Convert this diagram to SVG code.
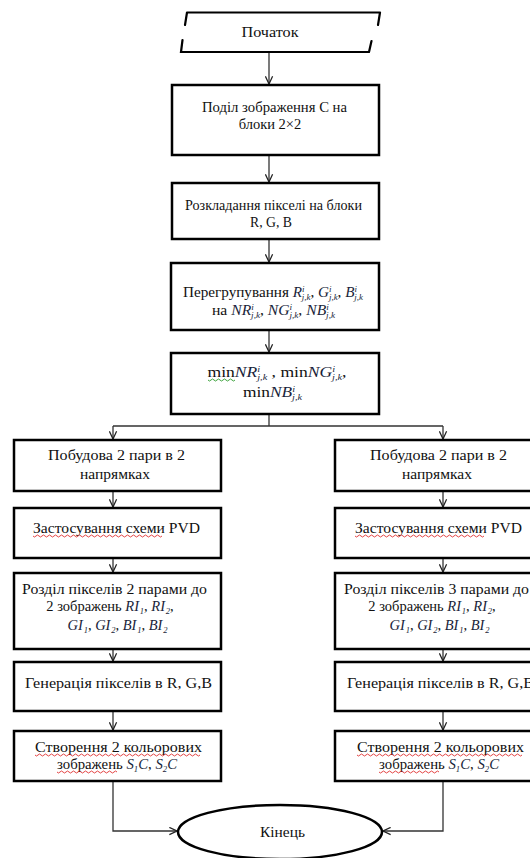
<svg xmlns="http://www.w3.org/2000/svg" width="530" height="858" viewBox="0 0 530 858">
<defs>
<style>
.box{fill:#fff;stroke:#000;stroke-width:2.5}
.term{fill:none;stroke:#000;stroke-width:2.2;stroke-linecap:round}
.t{font-family:"Liberation Serif","Times New Roman",serif;font-size:14.5px;fill:#111;text-anchor:middle}
.m{font-style:italic;fill:#1a1f3a}
.s{font-size:8.5px;font-style:italic;fill:#1a1f3a}
.c{fill:none;stroke:#333;stroke-width:1.3}
.spr{fill:none;stroke:#e03030;stroke-width:0.9}
.spg{fill:none;stroke:#2a9a2a;stroke-width:0.9}
</style>
<marker id="ah" viewBox="0 0 10 10" refX="9.5" refY="5" markerWidth="9" markerHeight="9" markerUnits="userSpaceOnUse" orient="auto">
<path d="M1,1 L9.5,5 L1,9" fill="none" stroke="#222" stroke-width="1.4"/>
</marker>
</defs>

<g id="connectors">
<path class="c" d="M269,52 V84" marker-end="url(#ah)"/>
<path class="c" d="M269,155 V182" marker-end="url(#ah)"/>
<path class="c" d="M269,239 V262" marker-end="url(#ah)"/>
<path class="c" d="M269,330 V352" marker-end="url(#ah)"/>
<path class="c" d="M269,414 V426 M113,426 H443"/>
<path class="c" d="M113,426 V439" marker-end="url(#ah)"/>
<path class="c" d="M443,426 V439" marker-end="url(#ah)"/>
<path class="c" d="M113,491 V507" marker-end="url(#ah)"/>
<path class="c" d="M443,491 V507" marker-end="url(#ah)"/>
<path class="c" d="M113,558 V572" marker-end="url(#ah)"/>
<path class="c" d="M443,558 V572" marker-end="url(#ah)"/>
<path class="c" d="M113,649 V661" marker-end="url(#ah)"/>
<path class="c" d="M443,649 V661" marker-end="url(#ah)"/>
<path class="c" d="M113,711 V730" marker-end="url(#ah)"/>
<path class="c" d="M443,711 V730" marker-end="url(#ah)"/>
<path class="c" d="M113,781 V831 H177" marker-end="url(#ah)"/>
<path class="c" d="M443,781 V831 H383" marker-end="url(#ah)"/>
</g>

<g id="start">
<path class="term" d="M187,12.5 L380,12.5 M187,12.5 L185,25 M182.5,40 L181,52 L369,52 M380,12.5 L378,25 M371.5,41 L369,52"/>
<text class="t" x="270" y="37" textLength="57" lengthAdjust="spacingAndGlyphs">Початок</text>
</g>

<g id="split">
<rect class="box" x="172" y="85" width="207" height="70"/>
<text class="t" x="274.5" y="112" textLength="145" lengthAdjust="spacingAndGlyphs">Поділ зображення C на</text>
<text class="t" x="270" y="129">блоки 2×2</text>
</g>

<g id="decompose">
<rect class="box" x="172" y="183" width="207" height="56"/>
<text class="t" x="273.5" y="210" textLength="177" lengthAdjust="spacingAndGlyphs">Розкладання пікселі на блоки</text>
<text class="t" x="271" y="227" textLength="42" lengthAdjust="spacingAndGlyphs">R, G, B</text>
</g>

<g id="regroup">
<rect class="box" x="171" y="263" width="208" height="67"/>
<text class="t" x="273" y="297" textLength="180" lengthAdjust="spacingAndGlyphs">Перегрупування <tspan class="m">R</tspan><tspan class="s" dy="-5">i</tspan><tspan class="s" dx="-2.5" dy="8">j,k</tspan><tspan dy="-3">, </tspan><tspan class="m">G</tspan><tspan class="s" dy="-5">i</tspan><tspan class="s" dx="-2.5" dy="8">j,k</tspan><tspan dy="-3">, </tspan><tspan class="m">B</tspan><tspan class="s" dy="-5">i</tspan><tspan class="s" dx="-2.5" dy="8">j,k</tspan></text>
<text class="t" x="273.5" y="315" textLength="123" lengthAdjust="spacingAndGlyphs">на <tspan class="m">NR</tspan><tspan class="s" dy="-5">i</tspan><tspan class="s" dx="-2.5" dy="8">j,k</tspan><tspan dy="-3">, </tspan><tspan class="m">NG</tspan><tspan class="s" dy="-5">i</tspan><tspan class="s" dx="-2.5" dy="8">j,k</tspan><tspan dy="-3">, </tspan><tspan class="m">NB</tspan><tspan class="s" dy="-5">i</tspan><tspan class="s" dx="-2.5" dy="8">j,k</tspan></text>
</g>

<g id="minimum">
<rect class="box" x="171" y="353" width="208" height="61"/>
<text class="t" x="277" y="377" textLength="139" lengthAdjust="spacingAndGlyphs">min<tspan class="m">NR</tspan><tspan class="s" dy="-5">i</tspan><tspan class="s" dx="-2.5" dy="8">j,k</tspan><tspan dy="-3"> , min</tspan><tspan class="m">NG</tspan><tspan class="s" dy="-5">i</tspan><tspan class="s" dx="-2.5" dy="8">j,k</tspan><tspan dy="-3">,</tspan></text>
<text class="t" x="272.5" y="397" textLength="59" lengthAdjust="spacingAndGlyphs">min<tspan class="m">NB</tspan><tspan class="s" dy="-5">i</tspan><tspan class="s" dx="-2.5" dy="8">j,k</tspan></text>
<path class="spg" d="M208,380 q1.5,2 3,0 t3,0 t3,0 t3,0 t3,0 t3,0 t3,0 t3,0 t3,0"/>
</g>

<g id="pairs-left">
<rect class="box" x="14" y="440" width="207" height="51"/>
<text class="t" x="116.5" y="460" textLength="137" lengthAdjust="spacingAndGlyphs">Побудова 2 пари в 2</text>
<text class="t" x="115" y="479" textLength="70" lengthAdjust="spacingAndGlyphs">напрямках</text>
</g>
<g id="pairs-right">
<rect class="box" x="335" y="440" width="207" height="51"/>
<text class="t" x="438.5" y="460" textLength="137" lengthAdjust="spacingAndGlyphs">Побудова 2 пари в 2</text>
<text class="t" x="437" y="479" textLength="70" lengthAdjust="spacingAndGlyphs">напрямках</text>
</g>

<g id="pvd-left">
<rect class="box" x="14" y="508" width="207" height="50"/>
<text class="t" x="116.5" y="533" textLength="167" lengthAdjust="spacingAndGlyphs">Застосування схеми PVD</text>
<path class="spr" d="M33,536 q1.5,2 3,0 t3,0 t3,0 t3,0 t3,0 t3,0 t3,0 t3,0 t3,0 t3,0 t3,0 t3,0 t3,0 t3,0 t3,0 t3,0 t3,0 t3,0 t3,0 t3,0 t3,0 t3,0 t3,0 t3,0 t3,0 t3,0 t3,0 t3,0 t3,0 t3,0 t3,0 t3,0 t3,0 t3,0 t3,0 t3,0 t3,0 t3,0 t3,0 t3,0 t3,0 t3,0 t3,0"/>
</g>
<g id="pvd-right">
<rect class="box" x="335" y="508" width="207" height="50"/>
<text class="t" x="438.5" y="533" textLength="167" lengthAdjust="spacingAndGlyphs">Застосування схеми PVD</text>
<path class="spr" d="M355,536 q1.5,2 3,0 t3,0 t3,0 t3,0 t3,0 t3,0 t3,0 t3,0 t3,0 t3,0 t3,0 t3,0 t3,0 t3,0 t3,0 t3,0 t3,0 t3,0 t3,0 t3,0 t3,0 t3,0 t3,0 t3,0 t3,0 t3,0 t3,0 t3,0 t3,0 t3,0 t3,0 t3,0 t3,0 t3,0 t3,0 t3,0 t3,0 t3,0 t3,0 t3,0 t3,0 t3,0 t3,0"/>
</g>

<g id="divide-left">
<rect class="box" x="14" y="573" width="207" height="76"/>
<text class="t" x="114.5" y="594" textLength="185" lengthAdjust="spacingAndGlyphs">Розділ пікселів 2 парами до</text>
<text class="t" x="110" y="611">2 зображень <tspan class="m">RI</tspan><tspan class="s" dx="0.8" dy="3">1</tspan><tspan dy="-3">, </tspan><tspan class="m">RI</tspan><tspan class="s" dx="0.8" dy="3">2</tspan><tspan dy="-3">,</tspan></text>
<text class="t" x="117.5" y="630"><tspan class="m">GI</tspan><tspan class="s" dx="0.8" dy="3">1</tspan><tspan dy="-3">, </tspan><tspan class="m">GI</tspan><tspan class="s" dx="0.8" dy="3">2</tspan><tspan dy="-3">, </tspan><tspan class="m">BI</tspan><tspan class="s" dx="0.8" dy="3">1</tspan><tspan dy="-3">, </tspan><tspan class="m">BI</tspan><tspan class="s" dx="0.8" dy="3">2</tspan></text>
</g>
<g id="divide-right">
<rect class="box" x="335" y="573" width="207" height="76"/>
<text class="t" x="436.5" y="594" textLength="185" lengthAdjust="spacingAndGlyphs">Розділ пікселів 3 парами до</text>
<text class="t" x="432" y="611">2 зображень <tspan class="m">RI</tspan><tspan class="s" dx="0.8" dy="3">1</tspan><tspan dy="-3">, </tspan><tspan class="m">RI</tspan><tspan class="s" dx="0.8" dy="3">2</tspan><tspan dy="-3">,</tspan></text>
<text class="t" x="439.5" y="630"><tspan class="m">GI</tspan><tspan class="s" dx="0.8" dy="3">1</tspan><tspan dy="-3">, </tspan><tspan class="m">GI</tspan><tspan class="s" dx="0.8" dy="3">2</tspan><tspan dy="-3">, </tspan><tspan class="m">BI</tspan><tspan class="s" dx="0.8" dy="3">1</tspan><tspan dy="-3">, </tspan><tspan class="m">BI</tspan><tspan class="s" dx="0.8" dy="3">2</tspan></text>
</g>

<g id="generate-left">
<rect class="box" x="14" y="662" width="207" height="49"/>
<text class="t" x="118.5" y="688" textLength="187" lengthAdjust="spacingAndGlyphs">Генерація пікселів в R, G,B</text>
</g>
<g id="generate-right">
<rect class="box" x="335" y="662" width="207" height="49"/>
<text class="t" x="440.5" y="688" textLength="187" lengthAdjust="spacingAndGlyphs">Генерація пікселів в R, G,B</text>
</g>

<g id="create-left">
<rect class="box" x="14" y="731" width="207" height="50"/>
<text class="t" x="118.5" y="752" textLength="167" lengthAdjust="spacingAndGlyphs">Створення 2 кольорових</text>
<text class="t" x="117" y="769" textLength="120" lengthAdjust="spacingAndGlyphs">зображень <tspan class="m">S</tspan><tspan class="s" dy="3">1</tspan><tspan class="m" dy="-3">C</tspan>, <tspan class="m">S</tspan><tspan class="s" dy="3">2</tspan><tspan class="m" dy="-3">C</tspan></text>
<path class="spr" d="M35,755 q1.5,2 3,0 t3,0 t3,0 t3,0 t3,0 t3,0 t3,0 t3,0 t3,0 t3,0 t3,0 t3,0 t3,0 t3,0 t3,0 t3,0 t3,0 t3,0 t3,0 t3,0 t3,0 t3,0 t3,0 t3,0 t3,0 t3,0 t3,0 t3,0 t3,0 t3,0 t3,0 t3,0 t3,0 t3,0 t3,0 t3,0 t3,0 t3,0 t3,0 t3,0 t3,0 t3,0 t3,0 t3,0 t3,0 t3,0 t3,0 t3,0 t3,0 t3,0 t3,0 t3,0 t3,0 t3,0 t3,0"/>
<path class="spr" d="M57,772 q1.5,2 3,0 t3,0 t3,0 t3,0 t3,0 t3,0 t3,0 t3,0 t3,0 t3,0 t3,0 t3,0 t3,0 t3,0 t3,0 t3,0 t3,0 t3,0 t3,0 t3,0"/>
</g>
<g id="create-right">
<rect class="box" x="335" y="731" width="207" height="50"/>
<text class="t" x="440.5" y="752" textLength="167" lengthAdjust="spacingAndGlyphs">Створення 2 кольорових</text>
<text class="t" x="439" y="769" textLength="120" lengthAdjust="spacingAndGlyphs">зображень <tspan class="m">S</tspan><tspan class="s" dy="3">1</tspan><tspan class="m" dy="-3">C</tspan>, <tspan class="m">S</tspan><tspan class="s" dy="3">2</tspan><tspan class="m" dy="-3">C</tspan></text>
<path class="spr" d="M357,755 q1.5,2 3,0 t3,0 t3,0 t3,0 t3,0 t3,0 t3,0 t3,0 t3,0 t3,0 t3,0 t3,0 t3,0 t3,0 t3,0 t3,0 t3,0 t3,0 t3,0 t3,0 t3,0 t3,0 t3,0 t3,0 t3,0 t3,0 t3,0 t3,0 t3,0 t3,0 t3,0 t3,0 t3,0 t3,0 t3,0 t3,0 t3,0 t3,0 t3,0 t3,0 t3,0 t3,0 t3,0 t3,0 t3,0 t3,0 t3,0 t3,0 t3,0 t3,0 t3,0 t3,0 t3,0 t3,0 t3,0"/>
<path class="spr" d="M379,772 q1.5,2 3,0 t3,0 t3,0 t3,0 t3,0 t3,0 t3,0 t3,0 t3,0 t3,0 t3,0 t3,0 t3,0 t3,0 t3,0 t3,0 t3,0 t3,0 t3,0 t3,0"/>
</g>

<g id="end">
<ellipse cx="280" cy="832" rx="102" ry="27" fill="#fff" stroke="#000" stroke-width="2.5"/>
<text class="t" x="282.5" y="837" textLength="45" lengthAdjust="spacingAndGlyphs">Кінець</text>
</g>
</svg>
